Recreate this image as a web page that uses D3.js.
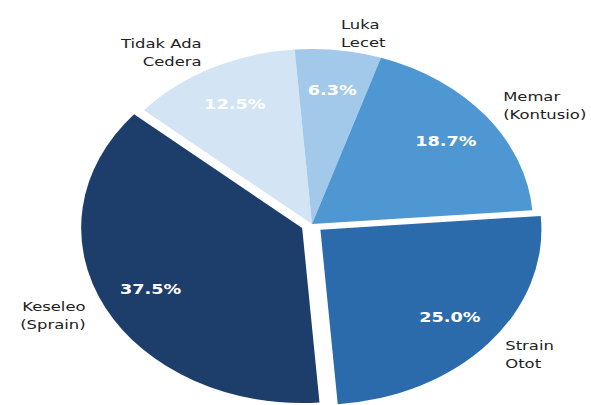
<!DOCTYPE html>
<html>
<head>
<meta charset="utf-8">
<script src="https://cdnjs.cloudflare.com/ajax/libs/d3/7.8.5/d3.min.js"></script>
<style>
  body { margin: 0; background: #fff; }
  svg { display: block; }
  .label { font-family: "DejaVu Sans", sans-serif; font-size: 13px; fill: #222; }
  .pct { font-family: "DejaVu Sans", sans-serif; font-size: 14px; font-weight: bold; fill: #fff; }
</style>
</head>
<body>
<div id="chart"></div>
<script>
// slices in clockwise order, starting from the bottom
var categories = ['Keseleo\n(Sprain)', 'Tidak Ada\nCedera', 'Luka\nLecet', 'Memar\n(Kontusio)', 'Strain\nOtot'];
var values = [37.5, 12.5, 6.3, 18.7, 25.0];
var pctLabels = ['37.5%', '12.5%', '6.3%', '18.7%', '25.0%'];
var explode = [0.05, 0, 0, 0, 0.05];
var colors = ['#1d3d6b', '#d3e4f4', '#a3c9ea', '#4f97d3', '#2b6bac'];

var width = 591;
var height = 405;
var radius = 175;
var stretch = 221 / 175;   // the picture is wider than tall
var cx = 312, cy = 224;

var svg = d3.select('#chart')
    .append('svg')
    .attr('width', width)
    .attr('height', height);

var g = svg.append('g')
    .attr('transform', 'translate(' + cx + ',' + cy + ') scale(' + stretch + ',1)');

var pie = d3.pie()
    .sort(null)
    .value(function (d) { return d; })
    .startAngle(175.5 * Math.PI / 180)
    .endAngle(175.5 * Math.PI / 180 + 2 * Math.PI);

var arcs = pie(values);

var arc = d3.arc()
    .innerRadius(0)
    .outerRadius(radius);

var offset = function (d, i) {
    var mid = (d.startAngle + d.endAngle) / 2;
    var e = explode[i] * radius;
    return [e * Math.sin(mid), -e * Math.cos(mid)];
};

var polar = function (d, i, dist) {
    var mid = (d.startAngle + d.endAngle) / 2;
    var o = offset(d, i);
    return [o[0] + dist * radius * Math.sin(mid), o[1] - dist * radius * Math.cos(mid)];
};

g.selectAll('path.slice')
    .data(arcs)
    .enter()
    .append('path')
    .attr('class', 'slice')
    .attr('d', arc)
    .attr('fill', function (d, i) { return colors[i]; })
    .attr('transform', function (d, i) {
        var o = offset(d, i);
        return 'translate(' + o[0] + ',' + o[1] + ')';
    });

// category labels
g.selectAll('text.label')
    .data(arcs)
    .enter()
    .append('text')
    .attr('class', 'label')
    .each(function (d, i) {
        var p = polar(d, i, 1.1);
        var lines = categories[i].split('\n');
        var t = d3.select(this)
            .style('text-anchor', p[0] > 0 ? 'start' : 'end');
        var lh = 18;
        lines.forEach(function (line, k) {
            t.append('tspan')
                .attr('x', p[0])
                .attr('y', p[1] + (k - (lines.length - 1) / 2) * lh)
                .attr('dy', '0.36em')
                .text(line);
        });
    });

// percentages
g.selectAll('text.pct')
    .data(arcs)
    .enter()
    .append('text')
    .attr('class', 'pct')
    .attr('x', function (d, i) { return polar(d, i, 0.77)[0]; })
    .attr('y', function (d, i) { return polar(d, i, 0.77)[1]; })
    .attr('dy', '0.36em')
    .style('text-anchor', 'middle')
    .text(function (d, i) { return pctLabels[i]; });
</script>
</body>
</html>
